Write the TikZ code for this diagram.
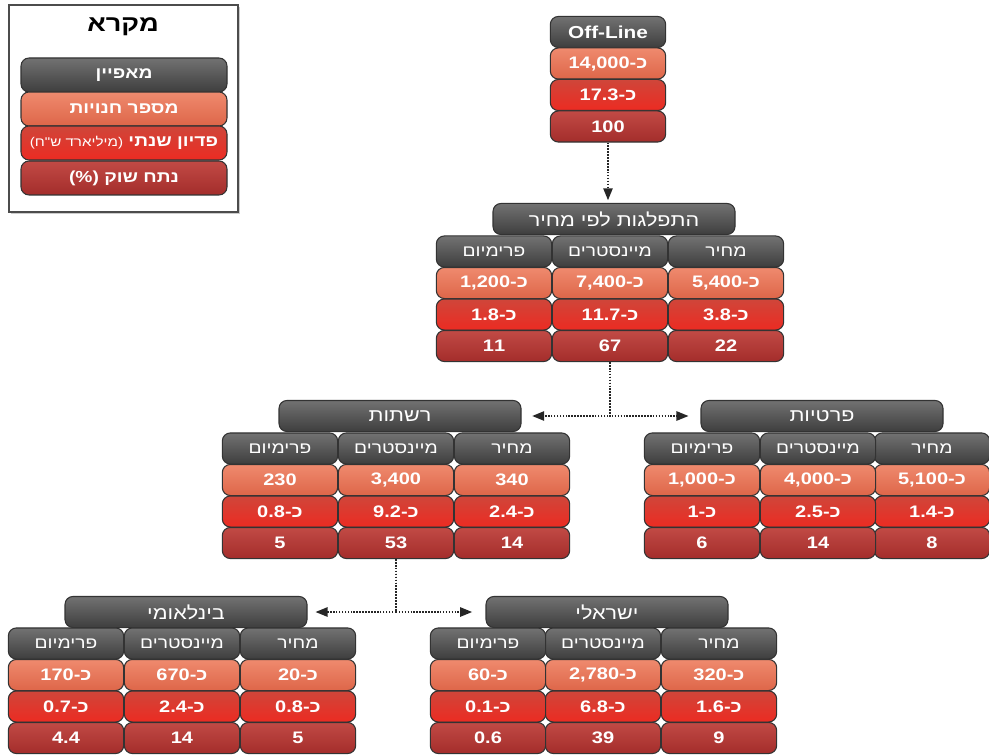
\documentclass[tikz,border=0pt]{standalone}
\usepackage{fontspec}
\newfontfamily\hebfont[Script=Hebrew,FakeStretch=1.2]{Liberation Sans}
\TeXXeTstate=1
\usetikzlibrary{arrows.meta,shadows}

\definecolor{headtop}{HTML}{727272}
\definecolor{headbot}{HTML}{3E3E3E}
\definecolor{storetop}{HTML}{EF8A6E}
\definecolor{storebot}{HTML}{DE6649}
\definecolor{revtop}{HTML}{CF463A}
\definecolor{revbot}{HTML}{EC2B22}
\definecolor{sharetop}{HTML}{C24A45}
\definecolor{sharebot}{HTML}{A32D2B}
\definecolor{celltext}{HTML}{FFF0EC}

% "about" prefix, kept as separate pieces so the right-to-left order is fixed
\newcommand{\approxval}[1]{\mbox{כ}\mbox{-}\mbox{#1}}

\begin{document}
\begin{tikzpicture}[
        x=0.75pt, y=-0.75pt,
        font=\hebfont,
        >=Triangle,
        % Styles
        cellbox/.style={rectangle, draw=black!80, line width=0.8pt, rounded corners=6pt, inner sep=0pt, minimum width=86.5pt, minimum height=23.3pt, execute at begin node=\beginR, execute at end node=\endR},
        headcell/.style={cellbox, top color=headtop, bottom color=headbot, text=white!92!black, font=\hebfont\fontsize{12}{14}\selectfont},
        storecell/.style={cellbox, top color=storetop, bottom color=storebot, text=celltext, font=\hebfont\bfseries\fontsize{12.5}{15}\selectfont},
        revcell/.style={cellbox, top color=revtop, bottom color=revbot, text=celltext, font=\hebfont\bfseries\fontsize{12.5}{15}\selectfont},
        sharecell/.style={cellbox, top color=sharetop, bottom color=sharebot, text=celltext, font=\hebfont\bfseries\fontsize{12.5}{15}\selectfont},
        titlebar/.style={headcell, minimum width=181.5pt, font=\hebfont\fontsize{13.5}{16}\selectfont},
        keyrow/.style={minimum width=154.5pt, minimum height=25.5pt, font=\hebfont\bfseries\fontsize{12}{14}\selectfont},
        keyframe/.style={rectangle, draw=black!70, line width=1.2pt, fill=white, minimum width=171.75pt, minimum height=155.25pt, drop shadow={shadow xshift=1.6pt, shadow yshift=-1.6pt, fill=black!40}},
        link/.style={densely dotted, line width=1.2pt, color=black!85, -{Triangle[length=9pt, width=7pt]}}
    ]

    \useasboundingbox (0,0) rectangle (989,756);

    % ================= LEGEND =================
    \node[keyframe] (key) at (123.5,108.5) {};
    \node[font=\hebfont\bfseries\fontsize{17}{20}\selectfont, execute at begin node=\beginR, execute at end node=\endR] (key-title) at (123,27) {מקרא};
    \foreach \j/\y/\sty/\txt in {0/75/headcell/{מאפיין}, 1/109/storecell/{מספר חנויות}, 2/143/revcell/{פדיון שנתי {\mdseries\fontsize{9.5}{11}\selectfont (מיליארד ש"ח)}}, 3/178/sharecell/{נתח שוק (\%)}} {
        \node[\sty, keyrow] (key-\j) at (124,\y) {\txt};
    }

    % ================= OFF-LINE =================
    \node[headcell, font=\hebfont\bfseries\fontsize{13}{15}\selectfont] (off-0) at (608,32) {Off-Line};
    \node[storecell] (off-1) at (608,63.5) {\approxval{14,000}};
    \node[revcell] (off-2) at (608,95) {\approxval{17.3}};
    \node[sharecell] (off-3) at (608,126.5) {100};

    % ================= PRICE SPLIT =================
    \node[titlebar] (price) at (614,219) {התפלגות לפי מחיר};
    \foreach \k/\x/\hd/\a/\b/\c in {1/726/מחיר/{\approxval{5,400}}/{\approxval{3.8}}/22, 2/610/מיינסטרים/{\approxval{7,400}}/{\approxval{11.7}}/67, 3/494/פרימיום/{\approxval{1,200}}/{\approxval{1.8}}/11} {
        \node[headcell] (price-\k-0) at (\x,251.5) {\hd};
        \node[storecell] (price-\k-1) at (\x,283) {\a};
        \node[revcell] (price-\k-2) at (\x,314.5) {\b};
        \node[sharecell] (price-\k-3) at (\x,346) {\c};
    }

    % ================= CHAINS =================
    \node[titlebar] (chains) at (400,416) {רשתות};
    \foreach \k/\x/\hd/\a/\b/\c in {1/512/מחיר/340/{\approxval{2.4}}/14, 2/396/מיינסטרים/{3,400}/{\approxval{9.2}}/53, 3/280/פרימיום/230/{\approxval{0.8}}/5} {
        \node[headcell] (chains-\k-0) at (\x,448.5) {\hd};
        \node[storecell] (chains-\k-1) at (\x,480) {\a};
        \node[revcell] (chains-\k-2) at (\x,511.5) {\b};
        \node[sharecell] (chains-\k-3) at (\x,543) {\c};
    }

    % ================= PRIVATE =================
    \node[titlebar] (private) at (822,416) {פרטיות};
    \foreach \k/\x/\hd/\a/\b/\c in {1/932/מחיר/{\approxval{5,100}}/{\approxval{1.4}}/8, 2/818/מיינסטרים/{\approxval{4,000}}/{\approxval{2.5}}/14, 3/702/פרימיום/{\approxval{1,000}}/{\approxval{1}}/6} {
        \node[headcell] (private-\k-0) at (\x,448.5) {\hd};
        \node[storecell] (private-\k-1) at (\x,480) {\a};
        \node[revcell] (private-\k-2) at (\x,511.5) {\b};
        \node[sharecell] (private-\k-3) at (\x,543) {\c};
    }

    % ================= INTERNATIONAL =================
    \node[titlebar] (intl) at (186,612) {בינלאומי};
    \foreach \k/\x/\hd/\a/\b/\c in {1/298/מחיר/{\approxval{20}}/{\approxval{0.8}}/5, 2/182/מיינסטרים/{\approxval{670}}/{\approxval{2.4}}/14, 3/66/פרימיום/{\approxval{170}}/{\approxval{0.7}}/4.4} {
        \node[headcell] (intl-\k-0) at (\x,643.5) {\hd};
        \node[storecell] (intl-\k-1) at (\x,675) {\a};
        \node[revcell] (intl-\k-2) at (\x,706.5) {\b};
        \node[sharecell] (intl-\k-3) at (\x,738) {\c};
    }

    % ================= ISRAELI =================
    \node[titlebar] (local) at (607,612) {ישראלי};
    \foreach \k/\x/\hd/\a/\b/\c in {1/719/מחיר/{\approxval{320}}/{\approxval{1.6}}/9, 2/603/מיינסטרים/{\approxval{2,780}}/{\approxval{6.8}}/39, 3/488/פרימיום/{\approxval{60}}/{\approxval{0.1}}/0.6} {
        \node[headcell] (local-\k-0) at (\x,643.5) {\hd};
        \node[storecell] (local-\k-1) at (\x,675) {\a};
        \node[revcell] (local-\k-2) at (\x,706.5) {\b};
        \node[sharecell] (local-\k-3) at (\x,738) {\c};
    }

    % Connectors
    \draw[link, shorten >=2pt] (off-3.south) -- (off-3.south |- price.north);
    \draw[link, shorten >=8pt] (price-2-3.south) |- (chains.east);
    \draw[link, shorten >=9pt] (price-2-3.south) |- (private.west);
    \draw[link, shorten >=6pt] (chains-2-3.south) |- (intl.east);
    \draw[link, shorten >=10pt] (chains-2-3.south) |- (local.west);

\end{tikzpicture}
\end{document}
